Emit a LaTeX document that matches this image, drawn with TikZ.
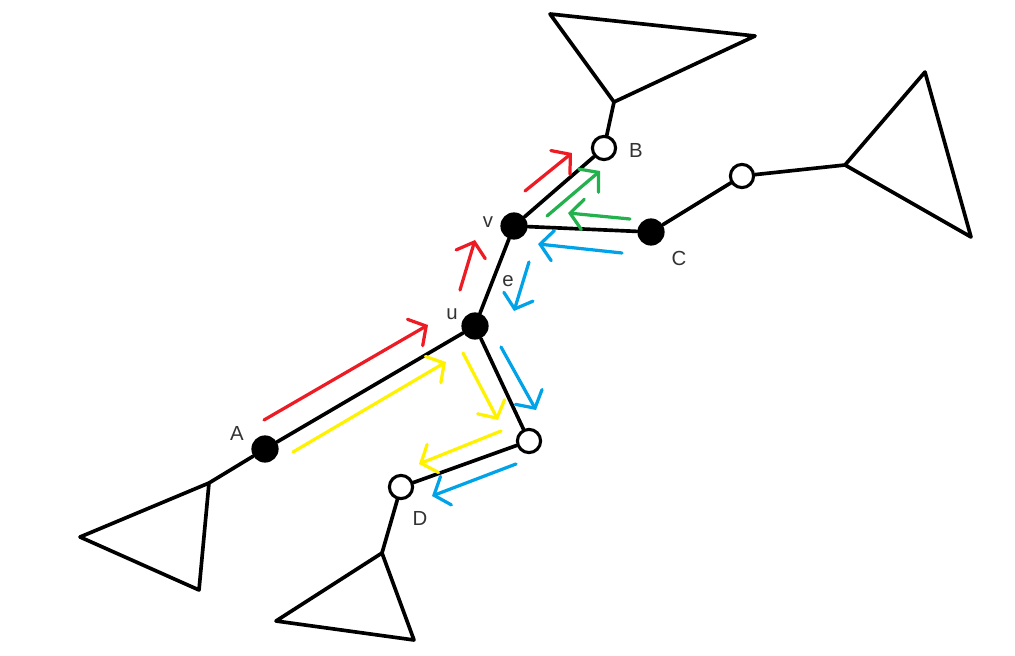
\documentclass[tikz,border=0pt]{standalone}
\usepackage{fontspec}
\setmainfont{Liberation Sans}
\usetikzlibrary{arrows.meta}
\definecolor{walkred}{HTML}{ED1C24}
\definecolor{walkyellow}{HTML}{FFF200}
\definecolor{walkgreen}{HTML}{22B14C}
\definecolor{walkblue}{HTML}{00A2E8}
\definecolor{labelgray}{HTML}{333333}

\begin{document}
\begin{tikzpicture}[
  x=0.025cm, y=-0.025cm,
  font=\fontsize{14.5}{16}\selectfont,
  edge/.style={line width=2.6pt, line join=round, line cap=round},
  solid/.style={circle, fill=black, minimum size=0.68cm, inner sep=0pt},
  hollow/.style={circle, draw=black, fill=white, line width=2.2pt, minimum size=0.58cm, inner sep=0pt},
  lbl/.style={text=labelgray, inner sep=1pt},
  walk/.style={line width=2.3pt, line cap=round, line join=round,
    -{Straight Barb[length=0.32cm, width=0.76cm, line cap=round]}}
]
  \useasboundingbox (0,0) rectangle (1015,656);

  % subtree roots
  \coordinate (tA) at (209,483);
  \coordinate (tB) at (614,102);
  \coordinate (tR) at (845,165);
  \coordinate (tD) at (382,553);

  % vertices
  \node[solid]  (A) at (265,449) {};
  \node[solid]  (u) at (475,326) {};
  \node[solid]  (v) at (514,226) {};
  \node[hollow] (B) at (604,148) {};
  \node[solid]  (C) at (651,232) {};
  \node[hollow] (r) at (742,176) {};
  \node[hollow] (w) at (529,441) {};
  \node[hollow] (D) at (401,487) {};

  % labels
  \node[lbl] (labA) at (237,433) {A};
  \node[lbl] (labu) at (452,314) {u};
  \node[lbl] (labv) at (488,222) {v};
  \node[lbl] (labB) at (636,150) {B};
  \node[lbl] (labC) at (679,258) {C};
  \node[lbl] (labD) at (420,518) {D};
  \node[lbl] (labe) at (508,281) {e};

  % tree edges
  \draw[edge] (tA) -- (A);
  \draw[edge] (A) -- (u);
  \draw[edge] (u) -- (v);
  \draw[edge] (v) -- (B);
  \draw[edge] (B) -- (tB);
  \draw[edge] (v) -- (C);
  \draw[edge] (C) -- (r);
  \draw[edge] (r) -- (tR);
  \draw[edge] (u) -- (w);
  \draw[edge] (w) -- (D);
  \draw[edge] (D) -- (tD);

  % subtrees
  \draw[edge] (tA) -- (80,537) -- (199,590) -- cycle;
  \draw[edge] (tB) -- (550,14) -- (755,36) -- cycle;
  \draw[edge] (tR) -- (925,72) -- (971,237) -- cycle;
  \draw[edge] (tD) -- (276,621) -- (414,640) -- cycle;

  % red walk
  \draw[walk, walkred] (264,420) -- (428,325);
  \draw[walk, walkred] (460,290) -- (475,240);
  \draw[walk, walkred] (525,191) -- (572,153);

  % yellow walk
  \draw[walk, walkyellow] (293,452) -- (446,362);
  \draw[walk, walkyellow] (463,353) -- (498,420);
  \draw[walk, walkyellow] (501,431) -- (419,464);

  % green walk
  \draw[walk, walkgreen] (630,219) -- (568,213);
  \draw[walk, walkgreen] (547,216) -- (600,171);

  % blue walk
  \draw[walk, walkblue] (622,253) -- (538,244);
  \draw[walk, walkblue] (529,262) -- (514,311);
  \draw[walk, walkblue] (501,347) -- (536,410);
  \draw[walk, walkblue] (516,464) -- (432,496);

\end{tikzpicture}
\end{document}
